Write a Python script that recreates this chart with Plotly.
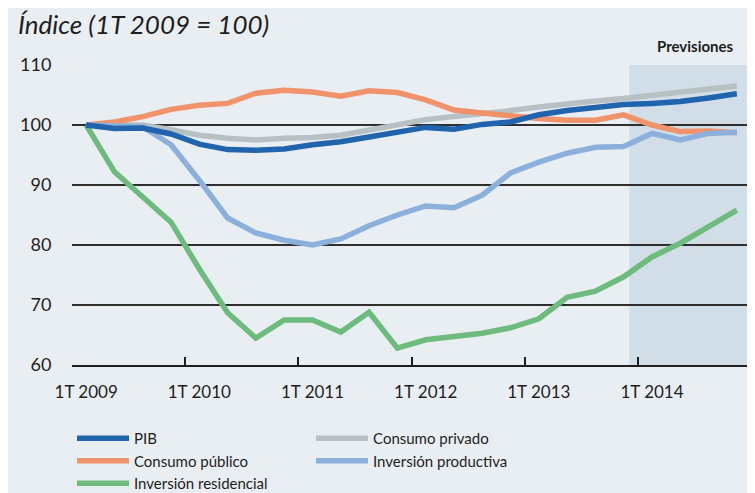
import plotly.graph_objects as go

quarters = list(range(24))
year_labels = ["1T 2009", "1T 2010", "1T 2011", "1T 2012", "1T 2013", "1T 2014"]
year_positions = [0, 4, 8, 12, 16, 20]
boundaries = [-0.5, 3.5, 7.5, 11.5, 15.5, 19.5, 23.5]
y_ticks = [60, 70, 80, 90, 100, 110]

pib = [100, 99.4, 99.5, 98.5, 96.8, 95.9, 95.8, 96.0, 96.7, 97.2, 98.0, 98.9,
       99.6, 99.3, 100.1, 100.5, 101.7, 102.4, 102.9, 103.4, 103.6, 103.9, 104.5, 105.2]
consumo_privado = [100, 100.1, 100, 99.2, 98.3, 97.8, 97.5, 97.8, 97.9, 98.3, 99.2, 100.1,
                   100.9, 101.4, 101.8, 102.4, 103.0, 103.6, 104.0, 104.4, 105.0, 105.4, 106.0, 106.5]
consumo_publico = [100, 100.5, 101.4, 102.6, 103.3, 103.6, 105.3, 105.8, 105.5, 104.8, 105.7, 105.4,
                   104.2, 102.5, 102.0, 101.5, 101.1, 100.8, 100.8, 101.7, 100.0, 98.9, 99.0, 98.7]
inversion_productiva = [100, 99.8, 99.7, 96.7, 90.8, 84.5, 82.0, 80.8, 80.0, 81.0, 83.2, 85.0,
                        86.5, 86.2, 88.3, 92.0, 93.8, 95.3, 96.3, 96.4, 98.6, 97.5, 98.6, 98.8]
inversion_residencial = [100, 92.2, 88.0, 83.8, 76.0, 68.7, 64.5, 67.5, 67.5, 65.5, 68.8, 62.8,
                         64.2, 64.7, 65.3, 66.2, 67.7, 71.3, 72.3, 74.7, 78.0, 80.3, 83.0, 85.8]
forecast_start = 19.2
forecast_end = 23.5

FONT = "Lato, Open Sans, sans-serif"
DARK = "#1e1e1e"

# (name, values, colour, legend, rank)
series = [
    ("Inversión residencial", inversion_residencial, "#6dbb7d", "legend", 3),
    ("Consumo privado", consumo_privado, "#b7c0c2", "legend2", 1),
    ("Consumo público", consumo_publico, "#f0926a", "legend", 2),
    ("Inversión productiva", inversion_productiva, "#8cb0dc", "legend2", 2),
    ("PIB", pib, "#1f64ad", "legend", 1),
]

fig = go.Figure()
for name, vals, color, leg, rank in series:
    fig.add_trace(go.Scatter(
        x=quarters, y=vals, mode="lines", name=name,
        line=dict(color=color, width=5.5), legend=leg, legendrank=rank,
    ))

# invisible trace that carries the year labels axis
fig.add_trace(go.Scatter(x=[0], y=[None], xaxis="x2", showlegend=False,
                         hoverinfo="skip"))

fig.add_shape(type="rect", xref="x", yref="y", x0=forecast_start, x1=forecast_end,
              y0=60, y1=110, fillcolor="#d1dee7", line_width=0, layer="below")

fig.add_annotation(text="Previsiones", xref="x", yref="paper", x=21.55, y=1.0,
                   yanchor="bottom", yshift=8, showarrow=False,
                   font=dict(family=FONT, size=15, color=DARK, weight="bold"))

legend_common = dict(orientation="v", yanchor="top", bgcolor="rgba(0,0,0,0)",
                     itemwidth=52, traceorder="normal",
                     font=dict(family=FONT, size=15, color=DARK))

fig.update_layout(
    width=747, height=485,
    paper_bgcolor="#e9eef3", plot_bgcolor="rgba(0,0,0,0)",
    margin=dict(l=64, r=4, t=57, b=128, autoexpand=False),
    font=dict(family=FONT, color=DARK, size=16),
    title=dict(text="Índice (1T 2009 = 100)", x=10 / 747, xanchor="left",
               xref="container", yref="container", y=1 - 17 / 485, yanchor="middle",
               font=dict(family=FONT, size=26, color=DARK, style="italic")),
    showlegend=True,
    legend=dict(x=0.0, y=-0.19, xanchor="left", **legend_common),
    legend2=dict(x=0.352, y=-0.19, xanchor="left", **legend_common),
    xaxis=dict(range=[-0.5, 23.5], tickvals=boundaries, showticklabels=False,
               ticks="inside", ticklen=8, tickwidth=2, tickcolor=DARK,
               showline=True, linecolor=DARK, linewidth=2, showgrid=False,
               zeroline=False, fixedrange=True),
    xaxis2=dict(range=[-0.5, 23.5], overlaying="x", anchor="y", side="bottom",
                tickvals=year_positions, ticktext=year_labels, ticks="outside",
                ticklen=12, tickcolor="rgba(0,0,0,0)", showgrid=False, showline=False,
                zeroline=False, tickfont=dict(family=FONT, size=17, color=DARK)),
    yaxis=dict(range=[60, 110], tickvals=y_ticks, showgrid=True, gridcolor="#2e2e2e",
               gridwidth=2, zeroline=False, ticks="outside", ticklen=16,
               tickcolor="rgba(0,0,0,0)", tickfont=dict(family=FONT, size=18, color=DARK),
               fixedrange=True),
)

fig.write_html("out.html")
